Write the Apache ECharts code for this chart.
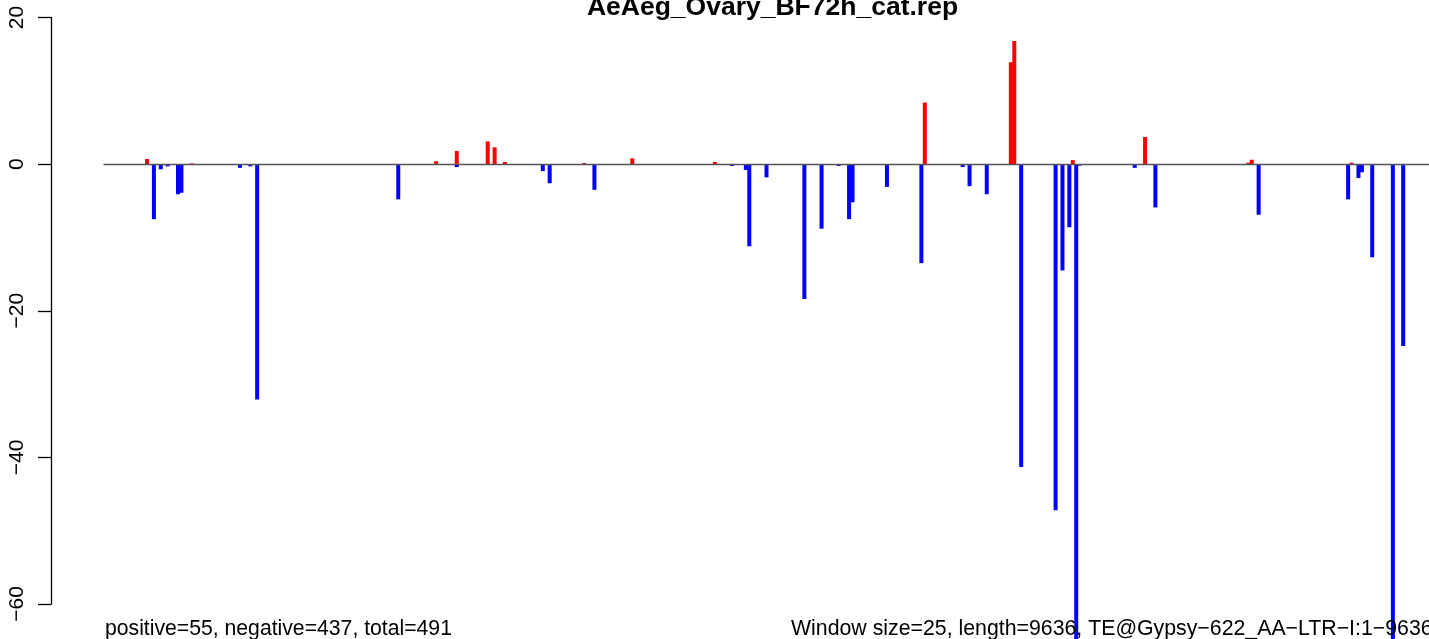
<!DOCTYPE html>
<html>
<head>
<meta charset="utf-8">
<script src="https://cdn.jsdelivr.net/npm/echarts@6/dist/echarts.min.js"></script>
<style>
html,body{margin:0;padding:0;background:#fff;}
#chart{width:1429px;height:639px;}
</style>
</head>
<body>
<div id="chart"></div>
<script>
// Window indices (window size 25 bp) and values
const posIdx = [12, 25, 96, 102, 111, 113, 116, 139, 153, 177, 238, 263, 264, 281, 302, 332, 333, 362];
const posVal = [0.7, 0.1, 0.4, 1.8, 3.1, 2.3, 0.3, 0.15, 0.8, 0.3, 8.4, 13.9, 16.8, 0.55, 3.7, 0.2, 0.6, 0.2];
const negIdx = [1, 14, 16, 18, 21, 22, 39, 42, 44, 85, 96, 102, 127, 129, 142, 182, 186, 187, 192, 203, 208, 213, 216, 217, 227, 237, 249, 251, 256, 266, 276, 278, 280, 282, 283, 291, 299, 305, 335, 339, 361, 364, 365, 368, 374, 377];
const negVal = [-0.1, -7.5, -0.7, -0.3, -4.1, -3.9, -0.5, -0.3, -32.1, -4.8, -0.1, -0.4, -0.95, -2.6, -3.5, -0.25, -0.8, -11.2, -1.8, -18.4, -8.8, -0.25, -7.5, -5.2, -3.1, -13.5, -0.4, -3.0, -4.1, -41.3, -47.2, -14.5, -8.6, -68, -0.2, -0.1, -0.5, -5.9, -6.9, -0.1, -4.8, -1.9, -1.1, -12.7, -68, -24.8];
const yTicks = [-60, -40, -20, 0, 20];
const nWindows = 385;
const titleText = 'AeAeg_Ovary_BF72h_cat.rep';
const leftNote = 'positive=55, negative=437, total=491';
const rightNote = 'Window size=25, length=9636, TE@Gypsy\u2212622_AA\u2212LTR\u2212I:1\u22129636';

const FONT = '"Liberation Sans", Arial, Helvetica, sans-serif';
const chart = echarts.init(document.getElementById('chart'), null, {renderer: 'canvas'});

const posData = posIdx.map((i, k) => [i + 0.5, posVal[k]]);
const negData = negIdx.map((i, k) => [i + 0.5, negVal[k]]);

const option = {
  backgroundColor: '#fff',
  animation: false,
  title: {
    text: titleText,
    left: 767.5,
    textAlign: 'center',
    top: -10.5,
    textStyle: {fontFamily: FONT, fontWeight: 'bold', fontSize: 26.5, color: '#000'}
  },
  grid: [
    {left: 104, right: 0, top: 17.5, bottom: 0},
    {left: 51, width: 1, top: 17.5, bottom: 35}
  ],
  xAxis: [
    {
      gridIndex: 0, type: 'value', min: 0, max: nWindows,
      axisLine: {show: true, onZero: true, lineStyle: {color: '#555', width: 1.3}},
      axisTick: {show: false}, axisLabel: {show: false}, splitLine: {show: false},
      z: 5
    },
    {gridIndex: 1, type: 'value', show: false}
  ],
  yAxis: [
    {
      gridIndex: 0, type: 'value', min: 20 - 621.5 / 7.333, max: 20, show: false
    },
    {
      gridIndex: 1, type: 'value', min: yTicks[0], max: yTicks[yTicks.length - 1], interval: 20,
      axisLine: {show: true, lineStyle: {color: '#000', width: 1.3}},
      axisTick: {show: true, inside: false, length: 13, lineStyle: {color: '#000', width: 1.3}},
      axisLabel: {
        rotate: 90, margin: 23, fontFamily: FONT, fontSize: 21, color: '#000',
        formatter: v => (v < 0 ? '\u2212' + Math.abs(v) : String(v))
      },
      splitLine: {show: false}
    }
  ],
  series: [
    {
      type: 'bar', xAxisIndex: 0, yAxisIndex: 0, data: negData,
      barWidth: 4, barGap: '-100%', itemStyle: {color: '#0000FF'}, clip: true
    },
    {
      type: 'bar', xAxisIndex: 0, yAxisIndex: 0, data: posData,
      barWidth: 4, barGap: '-100%', itemStyle: {color: '#FF0000'}, clip: true
    }
  ],
  graphic: [
    {
      type: 'text', z: 10,
      style: {text: leftNote, x: 105, y: 629, verticalAlign: 'middle', textAlign: 'left',
              font: '21.2px ' + FONT, fill: '#000'}
    },
    {
      type: 'text', z: 10,
      style: {text: rightNote, x: 791, y: 629, verticalAlign: 'middle', textAlign: 'left',
              font: '21.3px ' + FONT, fill: '#000'}
    }
  ]
};
chart.setOption(option);
</script>
</body>
</html>
